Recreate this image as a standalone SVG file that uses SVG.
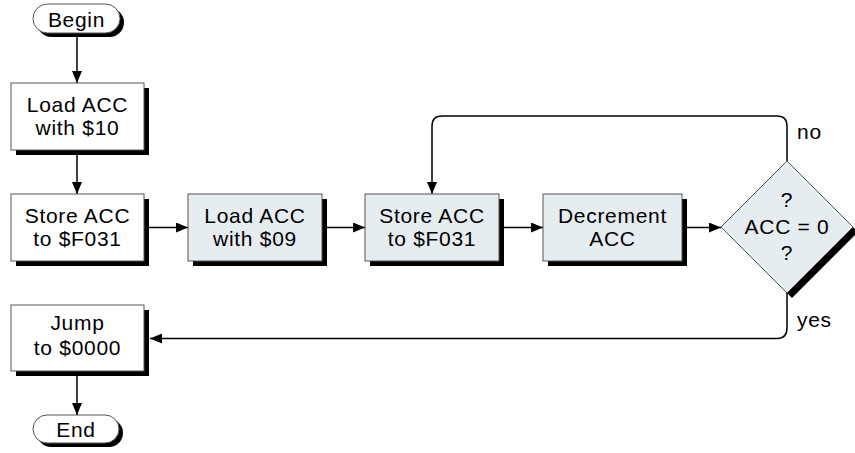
<svg xmlns="http://www.w3.org/2000/svg" width="855" height="453" viewBox="0 0 855 453">
<defs>
<marker id="arr" markerUnits="userSpaceOnUse" markerWidth="12" markerHeight="10" refX="12" refY="5" orient="auto">
<path d="M0,0 L12,5 L0,10 Z" fill="#000"/>
</marker>
<style>
.box{stroke:#555;stroke-width:1}
.w{fill:#fff}
.s{fill:#e6edf1}
.sh{fill:#000}
.t{font-family:"Liberation Sans",Arial,sans-serif;font-size:21px;letter-spacing:0.7px;fill:#000;text-anchor:middle}
.l{font-family:"Liberation Sans",Arial,sans-serif;font-size:21px;letter-spacing:0.7px;fill:#000}
.c{fill:none;stroke:#000;stroke-width:1.5}
</style>
</defs>
<rect width="855" height="453" fill="#fff"/>
<g id="connectors">
<path class="c" d="M77,33 V83" marker-end="url(#arr)"/>
<path class="c" d="M77,150 V194" marker-end="url(#arr)"/>
<path class="c" d="M144,227.5 H188" marker-end="url(#arr)"/>
<path class="c" d="M322,227.5 H365" marker-end="url(#arr)"/>
<path class="c" d="M499,227.5 H543" marker-end="url(#arr)"/>
<path class="c" d="M682,227.5 H721" marker-end="url(#arr)"/>
<path class="c" d="M787,161 V126 Q787,116 777,116 H442 Q432,116 432,126 V194" marker-end="url(#arr)"/>
<path class="c" d="M787,293 V328 Q787,338.5 777,338.5 H150" marker-end="url(#arr)"/>
<path class="c" d="M77,371 V415" marker-end="url(#arr)"/>
<text class="l" x="797" y="139">no</text>
<text class="l" x="797" y="327">yes</text>
</g>
<g id="begin">
<rect class="sh" x="37" y="8" width="87" height="29" rx="14.5"/>
<rect class="box w" x="33" y="4" width="87" height="29" rx="14.5"/>
<text class="t" x="76.5" y="27">Begin</text>
</g>
<g id="load10">
<rect class="sh" x="16" y="88" width="133" height="67"/>
<rect class="box w" x="11" y="83" width="133" height="67"/>
<text class="t" x="77.5" y="112">Load ACC</text>
<text class="t" x="77.5" y="135">with $10</text>
</g>
<g id="store1">
<rect class="sh" x="16" y="199" width="133" height="67"/>
<rect class="box w" x="11" y="194" width="133" height="67"/>
<text class="t" x="77.5" y="223">Store ACC</text>
<text class="t" x="77.5" y="246">to $F031</text>
</g>
<g id="load09">
<rect class="sh" x="193" y="199" width="134" height="67"/>
<rect class="box s" x="188" y="194" width="134" height="67"/>
<text class="t" x="255" y="223">Load ACC</text>
<text class="t" x="255" y="246">with $09</text>
</g>
<g id="store2">
<rect class="sh" x="370" y="199" width="134" height="67"/>
<rect class="box s" x="365" y="194" width="134" height="67"/>
<text class="t" x="432" y="223">Store ACC</text>
<text class="t" x="432" y="246">to $F031</text>
</g>
<g id="decrement">
<rect class="sh" x="548" y="199" width="139" height="67"/>
<rect class="box s" x="543" y="194" width="139" height="67"/>
<text class="t" x="612.5" y="223">Decrement</text>
<text class="t" x="612.5" y="246">ACC</text>
</g>
<g id="decision">
<polygon class="sh" points="726,232 792,166 858,232 792,298"/>
<polygon class="box s" points="721,227 787,161 853,227 787,293"/>
<text class="t" x="787" y="207">?</text>
<text class="t" x="787" y="233.5">ACC = 0</text>
<text class="t" x="787" y="260">?</text>
</g>
<g id="jump">
<rect class="sh" x="16" y="310" width="133" height="66"/>
<rect class="box w" x="11" y="305" width="133" height="66"/>
<text class="t" x="77.5" y="330">Jump</text>
<text class="t" x="77.5" y="355">to $0000</text>
</g>
<g id="end">
<rect class="sh" x="37" y="419" width="86" height="28" rx="14"/>
<rect class="box w" x="33" y="415" width="86" height="28" rx="14"/>
<text class="t" x="76" y="437">End</text>
</g>
</svg>
